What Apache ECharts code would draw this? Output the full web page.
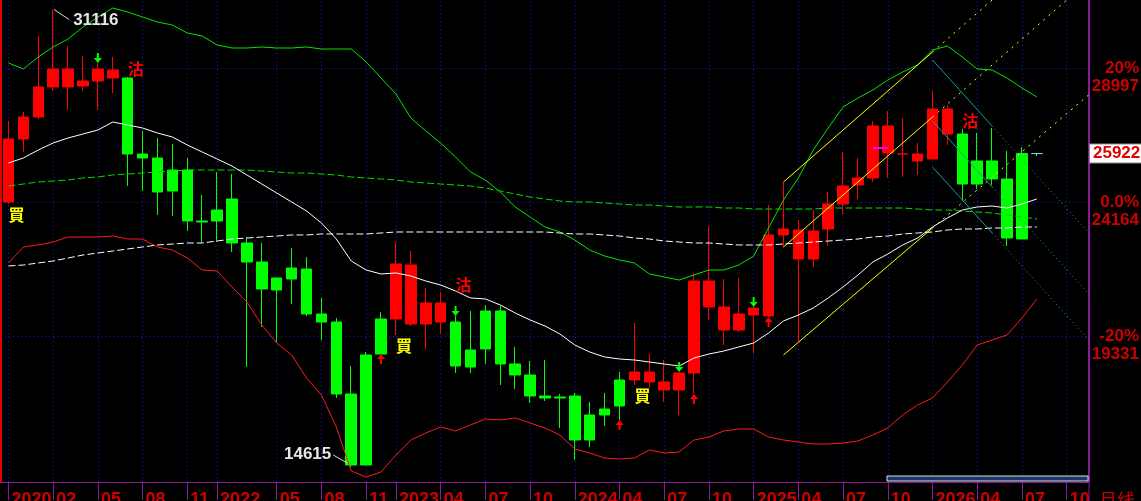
<!DOCTYPE html>
<html>
<head>
<meta charset="utf-8">
<script src="https://cdn.jsdelivr.net/npm/echarts@6.0.0/dist/echarts.min.js"></script>
<style>
html, body { margin: 0; padding: 0; background: #000; }
#chart { width: 1141px; height: 501px; }
</style>
</head>
<body>
<div id="chart"></div>
<script>
// monthly bars, first bar = 2020-11, a few empty slots after the last bar
const slotCount = 73
const categories = []
for (let k = 0; k < slotCount; k++) {
  const m = 10 + k
  categories.push((2020 + Math.floor(m / 12)) + '-' + String(m % 12 + 1).padStart(2, '0'))
}

const tickIdx = [0, 3, 6, 9, 12, 14, 18, 21, 24, 26, 29, 32, 35, 38, 41, 44, 47, 50, 53, 56, 59, 62, 65, 68, 71]
const tickText = ['2020', '02', '05', '08', '11', '2022', '05', '08', '11', '2023', '04', '07', '10',
  '2024', '04', '07', '10', '2025', '04', '07', '10', '2026', '04', '07', '10']

const openP = [24175, 26447, 27241, 28323, 28972, 28359, 28539, 28936, 28648, 25906,
  25762, 24572, 25329, 23490, 23490, 24283, 22696, 22011, 21001, 21397,
  21758, 20135, 19846, 17249, 14688, 18692, 19955, 21902, 19774, 20532,
  19846, 18223, 18873, 20243, 18332, 17935, 17177, 17105, 17177, 15590,
  16492, 16817, 17754, 18043, 17682, 17394, 18007, 21325, 20388, 19558,
  20099, 20063, 22985, 23165, 22119, 23201, 24103, 24788, 25041, 26916,
  25906, 25906, 25726, 27529, 26628, 24824, 25654, 25004, 22840, 25922]
const closeP = [26447, 27241, 28323, 28972, 28323, 28539, 28972, 28648, 25906, 25762,
  24536, 25329, 23490, 23453, 23886, 22696, 22011, 21037, 21434, 21794,
  20135, 19846, 17249, 14688, 18656, 19955, 21939, 19774, 20532, 19846,
  18259, 18836, 20243, 18332, 17935, 17177, 17105, 17141, 15590, 16492,
  16708, 17754, 18043, 17682, 17394, 18007, 21325, 20388, 19558, 20135,
  20351, 22985, 23201, 22119, 23129, 24103, 24752, 25041, 26916, 25942,
  25906, 25654, 27529, 26628, 24824, 25654, 25004, 22876, 25922, 25922]
const lowP = [24103, 25978, 27169, 28179, 27493, 28179, 27493, 28106, 24752, 24572,
  23706, 23670, 23129, 22696, 22732, 22371, 18223, 19666, 19125, 20496,
  20063, 19197, 17105, 14615, 14688, 18692, 19378, 19702, 18873, 19414,
  18007, 18007, 18332, 17574, 17430, 16925, 16997, 16023, 14869, 15338,
  16095, 16312, 17574, 17466, 16961, 16492, 17250, 19919, 19017, 19486,
  18728, 20027, 22552, 19125, 21830, 22588, 23742, 24283, 24896, 25041,
  25077, 25149, 25726, 26231, 24211, 24644, 24788, 22588, 22840, 25834]
const highP = [27097, 27421, 30163, 31116, 29802, 29441, 29189, 29405, 28684, 26736,
  26483, 26267, 25762, 24427, 25257, 25185, 22912, 22696, 21434, 22516,
  22191, 20712, 19991, 18259, 18764, 20207, 22732, 22407, 21073, 20929,
  20063, 20243, 20460, 20424, 18945, 18440, 18476, 17249, 17286, 16961,
  17286, 18043, 19810, 18692, 18476, 18043, 21614, 23309, 21397, 21434,
  20388, 24067, 24896, 23526, 23886, 24536, 25978, 25762, 27097, 27457,
  27205, 26303, 28179, 27674, 26808, 26664, 26844, 26014, 26159, 25922]

// bar colour follows the buy / sell state, not up / down
const regimeRuns = [['r', 8], ['g', 18], ['r', 4], ['g', 12], ['r', 22], ['g', 5], ['c', 1]]

const midLine = [25582, 25762, 26050, 26303, 26483, 26628, 26772, 27060, 26952, 26844,
  26664, 26519, 26231, 25978, 25726, 25473, 25149, 24824, 24499, 24175,
  23850, 23417, 22840, 22047, 21722, 21578, 21614, 21506, 21325, 21181,
  20965, 20712, 20676, 20460, 20171, 19919, 19702, 19414, 19017, 18764,
  18584, 18512, 18476, 18404, 18332, 18259, 18548, 18692, 18800, 18945,
  19089, 19450, 19883, 20099, 20351, 20712, 21109, 21542, 22011, 22299,
  22624, 22876, 23273, 23598, 23886, 23995, 24031, 23958, 24103, 24283]
const upperBand = [29189, 28972, 29405, 29766, 30054, 30487, 30848, 31172, 31028, 30848,
  30667, 30559, 30271, 30162, 29838, 29730, 29730, 29766, 29730, 29730,
  29766, 29694, 29694, 29694, 29225, 28648, 28070, 27205, 26736, 26303,
  25798, 25257, 24968, 24536, 23995, 23634, 23273, 23093, 22804, 22443,
  22227, 22083, 21975, 21578, 21470, 21361, 21542, 21722, 21722, 21902,
  22227, 23237, 24247, 25041, 26050, 26844, 27602, 27926, 28215, 28575,
  28864, 29116, 29657, 29802, 29405, 28972, 28936, 28648, 28287, 27962]
const lowerBand = [21975, 22552, 22624, 22732, 22912, 22912, 22912, 22948, 22840, 22840,
  22552, 22443, 22155, 21722, 21686, 21109, 20568, 19738, 19089, 18656,
  17827, 17213, 16059, 14472, 14256, 14436, 15049, 15590, 15843, 16059,
  15915, 16131, 16348, 16312, 16384, 16203, 16023, 15771, 15266, 15121,
  14941, 14905, 14941, 15229, 15121, 15157, 15590, 15698, 15915, 15987,
  15987, 15698, 15590, 15518, 15446, 15446, 15482, 15554, 15771, 16023,
  16492, 16853, 17105, 17682, 18295, 19017, 19197, 19378, 19991, 20676]
const longMaW = [21866, 21902, 21975, 22047, 22155, 22263, 22335, 22407, 22480, 22552,
  22624, 22660, 22696, 22696, 22768, 22840, 22876, 22912, 22948, 22985,
  22985, 23021, 23021, 23021, 23021, 23057, 23093, 23093, 23093, 23093,
  23093, 23093, 23093, 23093, 23093, 23093, 23093, 23057, 23021, 23021,
  22985, 22948, 22876, 22840, 22768, 22732, 22696, 22696, 22660, 22624,
  22624, 22624, 22660, 22696, 22732, 22768, 22804, 22840, 22912, 22948,
  23021, 23057, 23093, 23165, 23201, 23201, 23237, 23237, 23273, 23273]
const longMaG = [24752, 24824, 24896, 24932, 24968, 25041, 25077, 25149, 25185, 25221,
  25257, 25293, 25329, 25329, 25329, 25329, 25329, 25293, 25257, 25221,
  25221, 25185, 25149, 25077, 25041, 25004, 24968, 24896, 24860, 24824,
  24788, 24752, 24680, 24572, 24463, 24355, 24283, 24211, 24175, 24175,
  24139, 24103, 24067, 24067, 24031, 23995, 23995, 23995, 23958, 23958,
  23922, 23922, 23922, 23922, 23922, 23958, 23958, 23958, 23958, 23958,
  23958, 23922, 23886, 23886, 23850, 23814, 23778, 23706, 23634, 23562]

// trend channels: [from index, from price, to index, to price]
const yellowLines = [[52, 24896, 62, 29585], [52, 22552, 62, 27241], [52, 18656, 62, 23237]]
const tealLines = [[62, 29297, 66, 26916], [62, 27097, 66, 24716], [62, 25437, 66, 23057]]
const magentaMark = [[58, 26123], [59, 26123]]

const buyIdx = [0, 26, 42]
const sellIdx = [8, 30, 64]
const upArrowIdx = [25, 41, 46, 51]
const downArrowIdx = [6, 30, 45, 50]

const rightPrices = [28997, 24164, 19331]
const rightPct = ['20%', '0.0%', '-20%']
const lastPrice = 25922

const yMin = 14075
const yMax = 31461

const RED = '#ff0000'
const GREEN = '#00ff00'
const AXIS_PURPLE = '#8b1a9b'
const LABEL_RED = '#cc0000'
const GRID_BLUE = '#1c1cd8'

const regime = []
for (const [c, n] of regimeRuns) for (let k = 0; k < n; k++) regime.push(c)
const regimeColor = { r: RED, g: GREEN, c: '#5fe0e0' }

const candleData = openP.map((o, i) => {
  const col = regimeColor[regime[i]]
  return {
    value: [o, closeP[i], lowP[i], highP[i]],
    itemStyle: { color: col, color0: col, borderColor: col, borderColor0: col }
  }
})

const hiIdx = highP.indexOf(Math.max(...highP))
const loIdx = lowP.indexOf(Math.min(...lowP))

const annoData = []
buyIdx.forEach(i => annoData.push([i, lowP[i], 0]))
sellIdx.forEach(i => annoData.push([i, highP[i], 1]))
upArrowIdx.forEach(i => annoData.push([i, lowP[i], 2]))
downArrowIdx.forEach(i => annoData.push([i, highP[i], 3]))
annoData.push([hiIdx, highP[hiIdx], 4])
annoData.push([loIdx, lowP[loIdx], 5])

function renderAnno(params, api) {
  const idx = api.value(0)
  const pt = api.coord([idx, api.value(1)])
  const x = pt[0], y = pt[1]
  const kind = api.value(2)
  if (kind === 0) {
    return { type: 'text', style: { x: x + 8, y: y + 11, text: '買', fill: '#ffff00',
      font: 'bold 16px "Noto Sans CJK TC"', align: 'center', verticalAlign: 'middle' } }
  }
  if (kind === 1) {
    const dy = downArrowIdx.includes(idx) ? 31 : 8
    return { type: 'text', style: { x: x + 8, y: y - dy, text: '沽', fill: RED,
      font: 'bold 16px "Noto Sans CJK TC"', align: 'center', verticalAlign: 'middle' } }
  }
  if (kind === 2) {
    return { type: 'polygon', shape: { points: [[x, y], [x + 4, y + 5], [x + 1, y + 5], [x + 1, y + 10],
      [x - 1, y + 10], [x - 1, y + 5], [x - 4, y + 5]] }, style: { fill: RED } }
  }
  if (kind === 3) {
    return { type: 'polygon', shape: { points: [[x, y], [x + 4, y - 5], [x + 1, y - 5], [x + 1, y - 10],
      [x - 1, y - 10], [x - 1, y - 5], [x - 4, y - 5]] }, style: { fill: GREEN } }
  }
  const txt = String(api.value(1))
  if (kind === 4) {
    return { type: 'group', children: [
      { type: 'line', shape: { x1: x + 1, y1: y, x2: x + 16, y2: y + 10 }, style: { stroke: '#d8d8d8', lineWidth: 1 } },
      { type: 'text', style: { x: x + 20, y: y + 11, text: txt, fill: '#e6e6e6',
        font: 'bold 17px "Liberation Sans"', align: 'left', verticalAlign: 'middle' } }
    ] }
  }
  return { type: 'group', children: [
    { type: 'line', shape: { x1: x - 4, y1: y - 4, x2: x - 18, y2: y - 12 }, style: { stroke: '#d8d8d8', lineWidth: 1 } },
    { type: 'text', style: { x: x - 20, y: y - 13, text: txt, fill: '#e6e6e6',
      font: 'bold 17px "Liberation Sans"', align: 'right', verticalAlign: 'middle' } }
  ] }
}

function trendSeries(lines, color, dotType) {
  const out = []
  for (const [i1, p1, i2, p2] of lines) {
    const slope = (p2 - p1) / (i2 - i1)
    const endX = slotCount - 0.5
    out.push({
      type: 'line', xAxisIndex: 1, yAxisIndex: 0, symbol: 'none', z: 3, silent: true,
      data: [[i1, p1], [i2, p2]], lineStyle: { color: color, width: 1 }
    })
    out.push({
      type: 'line', xAxisIndex: 1, yAxisIndex: 0, symbol: 'none', z: 3, silent: true,
      data: [[i2, p2], [endX, p2 + slope * (endX - i2)]], lineStyle: { color: color, width: 1, type: dotType }
    })
  }
  return out
}

function maSeries(data, color, type) {
  return {
    type: 'line', xAxisIndex: 0, yAxisIndex: 0, data: data, symbol: 'none', z: 3, silent: true,
    lineStyle: { color: color, width: 1, type: type || 'solid' }
  }
}

const rightLabelStyle = { width: 48, align: 'right', color: LABEL_RED, fontSize: 17, fontWeight: 'bold',
  lineHeight: 18, fontFamily: 'Liberation Sans' }

const gridLineMarks = []
tickIdx.forEach(i => gridLineMarks.push({ xAxis: categories[i], label: { show: false } }))
rightPrices.forEach((p, k) => gridLineMarks.push({
  yAxis: p,
  label: {
    show: true, position: 'end', distance: 2, padding: [18, 0, 0, 0],
    formatter: () => '{p|' + rightPct[k] + '}\n{v|' + p + '}',
    rich: { p: rightLabelStyle, v: rightLabelStyle }
  }
}))
gridLineMarks.push({
  yAxis: lastPrice,
  lineStyle: { color: 'rgba(0,0,0,0)', width: 0 },
  label: {
    show: true, position: 'end', distance: 1, formatter: () => String(lastPrice),
    backgroundColor: '#ffffff', color: '#e00000', fontSize: 17, fontWeight: 'bold',
    fontFamily: 'Liberation Sans', padding: [1, 2, 0, 3], borderColor: '#888', borderWidth: 1
  }
})

const chart = echarts.init(document.getElementById('chart'))
chart.setOption({
  animation: false,
  backgroundColor: '#000000',
  grid: { left: 1, right: 52, top: 0, bottom: 19, containLabel: false, outerBoundsMode: 'none' },
  xAxis: [
    {
      type: 'category', data: categories, boundaryGap: true,
      axisLine: { onZero: false, lineStyle: { color: AXIS_PURPLE, width: 1 } },
      axisTick: { show: true, alignWithLabel: true, length: 18, interval: i => tickIdx.includes(i),
        lineStyle: { color: AXIS_PURPLE } },
      axisLabel: {
        interval: i => tickIdx.includes(i),
        formatter: (v, i) => tickText[tickIdx.indexOf(i)],
        color: LABEL_RED, fontSize: 18, fontWeight: 'bold', fontFamily: 'Liberation Sans',
        align: 'left', verticalAlign: 'top', margin: 9, padding: [0, 0, 0, 3]
      },
      splitLine: { show: false },
      name: '月线', nameLocation: 'end', nameGap: 10,
      nameTextStyle: { color: LABEL_RED, fontSize: 18, fontFamily: 'Noto Sans CJK SC',
        align: 'left', verticalAlign: 'top', padding: [9, 0, 0, 0] }
    },
    { type: 'value', min: -0.5, max: slotCount - 0.5, show: false }
  ],
  yAxis: [
    {
      type: 'value', position: 'right', min: yMin, max: yMax,
      axisLine: { show: true, onZero: false, lineStyle: { color: AXIS_PURPLE, width: 2 } },
      axisTick: { show: false }, axisLabel: { show: false }, splitLine: { show: false }
    },
    {
      type: 'value', position: 'left', min: yMin, max: yMax,
      axisLine: { show: true, onZero: false, lineStyle: { color: '#e00000', width: 2 } },
      axisTick: { show: false }, axisLabel: { show: false }, splitLine: { show: false }
    }
  ],
  series: [
    {
      type: 'candlestick', xAxisIndex: 0, yAxisIndex: 0, data: candleData, barWidth: 11, z: 2, silent: true,
      itemStyle: { borderWidth: 1 },
      markLine: {
        silent: true, symbol: 'none', z: 1, animation: false,
        lineStyle: { color: GRID_BLUE, type: [1, 3], width: 1 },
        data: gridLineMarks
      }
    },
    maSeries(upperBand, '#00e600'),
    maSeries(lowerBand, '#ff1a1a'),
    maSeries(longMaG, '#00dd00', [7, 3]),
    maSeries(longMaW, '#ffffff', [7, 3]),
    maSeries(midLine, '#ffffff'),
    ...trendSeries(yellowLines, '#ffff00', [2, 5]),
    ...trendSeries(tealLines, '#139c9c', [1, 3]),
    {
      type: 'line', xAxisIndex: 1, yAxisIndex: 0, symbol: 'none', z: 3, silent: true,
      data: magentaMark, lineStyle: { color: '#ff00ff', width: 2 }
    },
    {
      type: 'custom', xAxisIndex: 0, yAxisIndex: 0, data: annoData, renderItem: renderAnno,
      encode: { x: 0, y: 1 }, z: 5, clip: false, silent: true
    }
  ],
  graphic: [
    { type: 'rect', shape: { x: 887, y: 476, width: 201, height: 5 },
      style: { fill: '#1d3568', stroke: '#e0e0e0', lineWidth: 1 }, z: 10 },
    { type: 'line', shape: { x1: 1089, y1: 483, x2: 1089, y2: 501 },
      style: { stroke: AXIS_PURPLE, lineWidth: 1 }, z: 10 }
  ]
})
</script>
</body>
</html>
